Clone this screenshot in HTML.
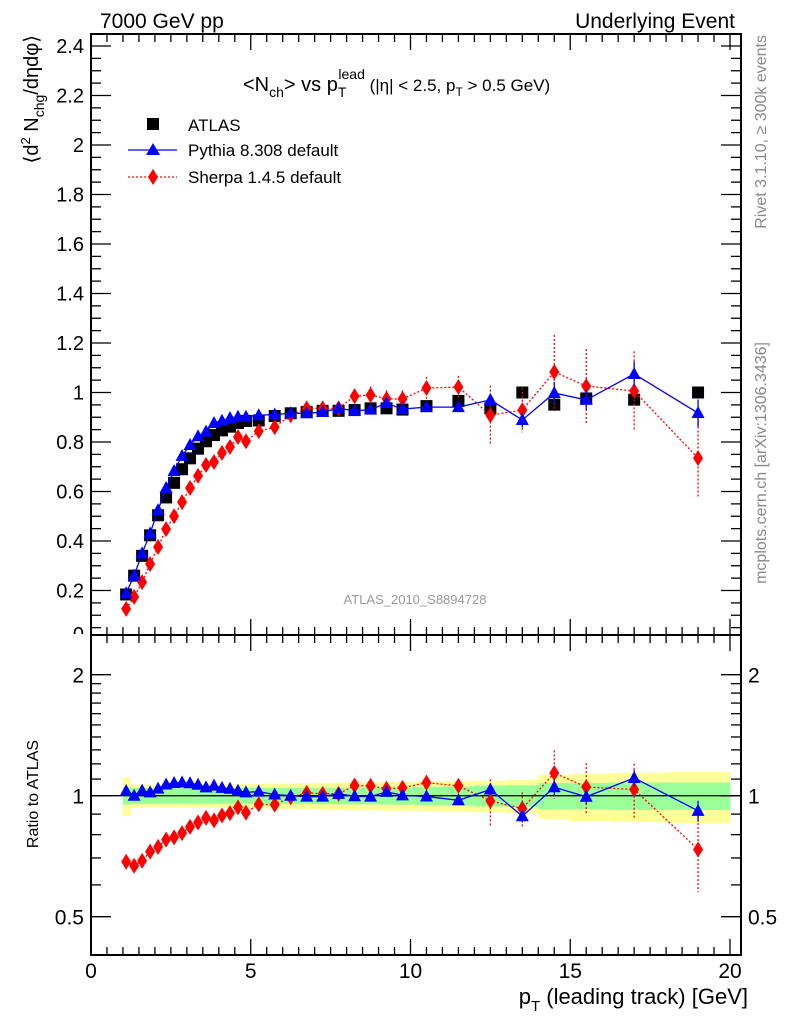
<!DOCTYPE html>
<html><head><meta charset="utf-8">
<style>
body{margin:0;background:#fff;}
svg{display:block;font-family:"Liberation Sans",sans-serif;}
</style></head>
<body>
<svg id="chart" width="786" height="1024" viewBox="0 0 786 1024" xmlns="http://www.w3.org/2000/svg">
<defs><clipPath id="mainclip"><rect x="0" y="0" width="90" height="634"/></clipPath></defs>
<text x="100" y="28" font-size="21">7000 GeV pp</text>
<text x="735" y="28" font-size="21" text-anchor="end">Underlying Event</text>
<text transform="translate(38,35) rotate(-90)" font-size="20" text-anchor="end">⟨d<tspan dy="-8" font-size="13">2</tspan><tspan dy="8"> N</tspan><tspan dy="6" font-size="14">chg</tspan><tspan dy="-6">/dηdφ⟩</tspan></text>
<text x="243" y="91" font-size="20">&lt;N<tspan dy="6" font-size="14">ch</tspan><tspan dy="-6">&gt; vs p</tspan><tspan dy="6" font-size="14">T</tspan><tspan dx="-8" dy="-18" font-size="14">lead</tspan><tspan dy="12" font-size="17"> (|η| &lt; 2.5, p</tspan><tspan dy="5" font-size="12">T</tspan><tspan dy="-5" font-size="17"> &gt; 0.5 GeV)</tspan></text>
<text x="415" y="604" font-size="13" fill="#999" text-anchor="middle">ATLAS_2010_S8894728</text>
<text transform="translate(766,35) rotate(-90)" font-size="16" fill="#888" text-anchor="end">Rivet 3.1.10, ≥ 300k events</text>
<text transform="translate(766,342) rotate(-90)" font-size="16" fill="#888" text-anchor="end">mcplots.cern.ch [arXiv:1306.3436]</text>
<text transform="translate(38,794) rotate(-90)" font-size="16" text-anchor="middle">Ratio to ATLAS</text>
<text x="748" y="1004" font-size="22" text-anchor="end">p<tspan dy="7" font-size="15">T</tspan><tspan dy="-7"> (leading track) [GeV]</tspan></text>
<g id="legend">
<rect x="147" y="118" width="12" height="12" fill="#000"/>
<text x="188" y="131" font-size="17">ATLAS</text>
<line x1="128" y1="150" x2="177" y2="150" stroke="#00f" stroke-width="1.3"/>
<path d="M153,143 L160,155 L146,155 Z" fill="#00f"/>
<text x="188" y="156" font-size="17">Pythia 8.308 default</text>
<line x1="128" y1="177" x2="177" y2="177" stroke="#f00" stroke-width="1.3" stroke-dasharray="2,2"/>
<path d="M153,169 L158,177 L153,185 L148,177 Z" fill="#f00"/>
<text x="188" y="183" font-size="17">Sherpa 1.4.5 default</text>
</g>
</svg>
<script>
const pt=[1.1,1.35,1.6,1.85,2.1,2.35,2.6,2.85,3.1,3.35,3.6,3.85,4.1,4.35,4.6,4.85,5.25,5.75,6.25,6.75,7.25,7.75,8.25,8.75,9.25,9.75,10.5,11.5,12.5,13.5,14.5,15.5,17,19];
const atlas=[0.184,0.26,0.34,0.423,0.504,0.576,0.635,0.69,0.734,0.773,0.803,0.828,0.847,0.862,0.877,0.885,0.887,0.905,0.916,0.921,0.926,0.926,0.929,0.936,0.936,0.931,0.945,0.966,0.936,1.0,0.951,0.976,0.971,1.0];
const pythia=[0.189,0.26,0.35,0.431,0.525,0.614,0.683,0.744,0.788,0.823,0.842,0.877,0.886,0.897,0.902,0.902,0.908,0.911,0.916,0.916,0.921,0.936,0.926,0.931,0.957,0.933,0.941,0.941,0.97,0.889,0.998,0.97,1.075,0.917];
const pythiaErr=[0,0,0,0,0,0,0,0,0,0,0,0,0,0,0,0,0.003,0.004,0.005,0.006,0.007,0.008,0.009,0.01,0.011,0.012,0.012,0.015,0.025,0.03,0.045,0.04,0.05,0.055];
const sherpa=[0.126,0.174,0.234,0.307,0.376,0.448,0.5,0.557,0.614,0.663,0.707,0.719,0.756,0.78,0.82,0.803,0.844,0.86,0.908,0.936,0.936,0.936,0.985,0.99,0.974,0.974,1.018,1.022,0.908,0.929,1.083,1.026,1.006,0.735];
const sherpaErr=[0,0,0,0,0,0,0,0,0,0,0,0,0,0,0,0,0.005,0.008,0.01,0.02,0.02,0.02,0.03,0.035,0.035,0.035,0.045,0.045,0.12,0.09,0.15,0.15,0.16,0.16];
const bandStat=[0.05,0.045,0.045,0.045,0.045,0.045,0.045,0.045,0.045,0.045,0.045,0.045,0.045,0.045,0.045,0.045,0.045,0.045,0.045,0.045,0.047,0.047,0.048,0.048,0.05,0.05,0.052,0.055,0.06,0.062,0.075,0.075,0.078,0.078];
const bandTot=[0.11,0.065,0.065,0.065,0.065,0.066,0.066,0.067,0.067,0.068,0.068,0.068,0.068,0.069,0.07,0.07,0.07,0.072,0.073,0.075,0.077,0.078,0.08,0.08,0.082,0.083,0.085,0.088,0.09,0.095,0.125,0.135,0.14,0.145];
const mainTicks=[0,0.2,0.4,0.6,0.8,1,1.2,1.4,1.6,1.8,2,2.2,2.4];
const ratioTicks=[0.5,1,2];
const xTicks=[0,5,10,15,20];

const NS="http://www.w3.org/2000/svg";
const svg=document.getElementById('chart');
const L=91,R=741,T=34,MB=635,RB=955;
const X=v=>91+v*31.95;
const Y=v=>640-v*247.5;
const YR=r=>795.7-Math.log2(r)*121;
function mk(tag,attrs,parent){const e=document.createElementNS(NS,tag);for(const k in attrs)e.setAttribute(k,attrs[k]);(parent||svg).appendChild(e);return e;}

const gBand=mk('g',{});


function edges(i){const lo=i===0?1.0:(pt[i-1]+pt[i])/2;const hi=i===pt.length-1?20:(pt[i]+pt[i+1])/2;return[lo,hi];}
[[bandTot,'#ffff99','band-total'],[bandStat,'#99ff99','band-stat']].forEach(([arr,col,nm])=>{
  arr.forEach((w,i)=>{const [lo,hi]=edges(i);
    const r=mk('rect',{x:X(lo),y:YR(1+w),width:X(hi)-X(lo)+0.5,height:YR(1-w)-YR(1+w),fill:col},gBand);
    
    
  });
});
const one=mk('line',{x1:L,x2:R,y1:YR(1),y2:YR(1),stroke:'#000','stroke-width':1.3});



[[T,MB,'main-frame'],[MB,RB,'ratio-frame']].forEach(([a,b,n])=>{
  const f=mk('rect',{x:L,y:a,width:R-L,height:b-a,fill:'none',stroke:'#000','stroke-width':2});
  
  
});
const gAx=mk('g',{stroke:'#000','stroke-width':1.3});


for(let v=0;v<=20.01;v+=0.5){
  const maj=Math.abs(v%5)<0.01;const len=maj?16:8;
  [[T,1],[MB,-1],[MB,1],[RB,-1]].forEach(([y,d])=>mk('line',{x1:X(v),x2:X(v),y1:y,y2:y+d*len},gAx));
}
xTicks.forEach(v=>{const t=mk('text',{x:X(v),y:978,'font-size':21,'text-anchor':'middle',stroke:'none'});t.textContent=v;
  
  });
for(let v=0;v<=2.451;v+=0.05){
  const y=Y(v);if(y<T||y>MB)continue;const maj=Math.abs(v/0.2-Math.round(v/0.2))<0.01;const len=maj?20:10;
  mk('line',{x1:L,x2:L+len,y1:y,y2:y},gAx);mk('line',{x1:R,x2:R-len,y1:y,y2:y},gAx);
}
mainTicks.forEach(v=>{const by=v===0?641:Y(v)+7;const t=mk('text',{x:84,y:by,'font-size':20,'text-anchor':'end',stroke:'none','clip-path':'url(#mainclip)'});t.textContent=String(v);
  
  });
const rmin=[0.4,0.5,0.6,0.7,0.8,0.9,1,1.1,1.2,1.3,1.4,1.5,1.6,1.7,1.8,1.9,2];
rmin.forEach(r=>{const y=YR(r);if(y<MB||y>RB)return;const maj=ratioTicks.includes(r);const len=maj?20:10;
  mk('line',{x1:L,x2:L+len,y1:y,y2:y},gAx);mk('line',{x1:R,x2:R-len,y1:y,y2:y},gAx);});
ratioTicks.forEach(r=>{
  const t=mk('text',{x:84,y:YR(r)+8,'font-size':21,'text-anchor':'end',stroke:'none'});t.textContent=String(r);
  
  
  const t2=mk('text',{x:748,y:YR(r)+8,'font-size':21,stroke:'none'});t2.textContent=String(r);
  
  
});

function tri(x,y,c,g){return mk('path',{d:`M${x},${y-7} L${x+6.5},${y+5} L${x-6.5},${y+5} Z`,fill:c},g);}
function dia(x,y,c,g){return mk('path',{d:`M${x},${y-8} L${x+5},${y} L${x},${y+8} L${x-5},${y} Z`,fill:c},g);}
function series(vals,errs,ymap,color,dash,shape,name,ratio){
  const g=mk('g',{});
  
  
  const v=ratio?vals.map((x,i)=>x/atlas[i]):vals;
  const e=ratio?errs.map((x,i)=>x/atlas[i]):errs;
  mk('polyline',{points:v.map((y,i)=>X(pt[i])+','+ymap(y)).join(' '),fill:'none',stroke:color,'stroke-width':1.3,'stroke-dasharray':dash},g);
  v.forEach((y,i)=>{if(e[i]>0){mk('line',{x1:X(pt[i]),x2:X(pt[i]),y1:ymap(y+e[i]),y2:ymap(Math.max(y-e[i],0.05)),stroke:color,'stroke-width':1.3,'stroke-dasharray':dash},g);}
    const m=shape(X(pt[i]),ymap(y),color,g);
    
    });
}
const gA=mk('g',{});


atlas.forEach((v,i)=>{const r=mk('rect',{x:X(pt[i])-6,y:Y(v)-6,width:12,height:12,fill:'#000'},gA);
  
  });
series(sherpa,sherpaErr,Y,'#f00','2,2',dia,'sherpa-series',false);
series(pythia,pythiaErr,Y,'#00f','',tri,'pythia-series',false);
series(sherpa,sherpaErr,YR,'#f00','2,2',dia,'sherpa-ratio',true);
series(pythia,pythiaErr,YR,'#00f','',tri,'pythia-ratio',true);
</script>
</body></html>
